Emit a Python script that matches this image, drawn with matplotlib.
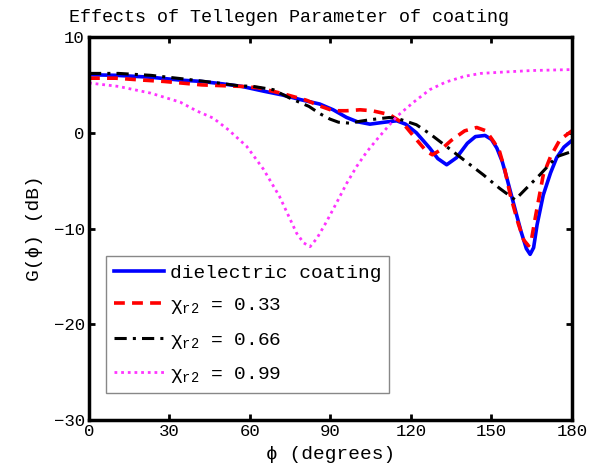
import matplotlib.pyplot as plt

# 讀取圖上的數值 (phi in degrees, G in dB)
phi_diel = [0, 10, 23, 34, 42, 50, 57, 65, 72, 79, 86, 91, 96, 100, 104.7, 110, 114.7,
            118, 122, 127, 130, 133.3, 137, 141, 144, 147.6, 150, 152, 154, 155.7, 159, 161,
            163, 164.4, 165.7, 167, 169.3, 172, 174.3, 177, 180]
g_diel = [6.06, 6.0, 5.8, 5.5, 5.36, 5.1, 4.84, 4.35, 3.95, 3.45, 3.0, 2.4, 1.6, 1.15, 0.9,
          1.1, 1.25, 0.9, 0.0, -1.6, -2.7, -3.34, -2.6, -1.1, -0.4, -0.28, -0.7, -1.6, -3.0,
          -4.7, -8.2, -10.3, -12.1, -12.7, -12.0, -9.6, -6.5, -4.2, -2.6, -1.5, -0.8]

phi_033 = [0, 10, 20, 28, 42, 57, 63, 72, 81, 86, 91, 96, 101, 105.5, 112, 117, 122, 125.8,
           128, 131, 135, 140, 144.5, 148, 151, 153, 155, 157, 160, 162, 163.8, 165, 166.5,
           169.3, 172, 175.5, 180]
g_033 = [5.7, 5.7, 5.5, 5.36, 5.0, 4.84, 4.7, 4.1, 3.4, 2.8, 2.3, 2.3, 2.4, 2.3, 1.9, 1.0,
         -0.7, -1.95, -2.3, -1.8, -0.8, 0.2, 0.55, 0.2, -1.0, -1.95, -3.9, -6.5, -9.5, -11.2,
         -11.8, -11.0, -8.6, -4.4, -2.5, -0.73, 0.2]

phi_066 = [0, 11, 23, 36, 48, 56, 61, 68.7, 75, 82, 86, 89.8, 93, 97.3, 101, 104.7, 112, 116,
           122, 127, 134, 140, 147, 153, 158.8, 163, 168, 174.3, 180]
g_066 = [6.2, 6.2, 6.0, 5.6, 5.2, 4.9, 4.85, 4.5, 3.6, 2.75, 2.0, 1.43, 1.1, 1.0, 1.2, 1.36,
         1.6, 1.4, 0.84, -0.1, -1.6, -2.9, -4.4, -5.8, -7.0, -5.8, -4.4, -2.5, -1.95]

phi_099 = [0, 11, 23, 34, 40, 46.3, 52, 58.8, 65, 71, 77.4, 80, 82.4, 85, 88.5, 92.3, 96, 99.8,
           103.5, 107.2, 114.7, 121, 127, 133, 140, 146, 155, 165, 180]
g_099 = [5.2, 4.84, 4.14, 3.2, 2.3, 1.53, 0.3, -1.43, -3.8, -6.65, -10.5, -11.5, -11.9, -11.0,
         -9.3, -7.3, -5.3, -3.5, -2.0, -0.73, 1.7, 3.2, 4.5, 5.3, 5.9, 6.2, 6.35, 6.5, 6.6]

xticks = [0, 30, 60, 90, 120, 150, 180]
yticks = [-30, -20, -10, 0, 10]

plt.rcParams['font.family'] = ['Liberation Mono', 'DejaVu Sans Mono', 'DejaVu Sans']
plt.rcParams['mathtext.fontset'] = 'custom'
plt.rcParams['mathtext.rm'] = 'Liberation Mono'
plt.rcParams['mathtext.it'] = 'Liberation Mono'

fig = plt.figure(figsize=(5.96, 4.71), dpi=100)
ax = fig.add_axes([0.1493, 0.1083, 0.8104, 0.8131])

ax.plot(phi_diel, g_diel, color='#0000ff', linestyle='-', linewidth=2.6, label='dielectric coating')
ax.plot(phi_033, g_033, color='#ff0000', linestyle=(0, (3, 2)), linewidth=2.6,
        label=r'$\mathrm{χ}_{\mathrm{r2}}$ = 0.33')
ax.plot(phi_066, g_066, color='black', linestyle=(0, (4, 2, 1, 2)), linewidth=2.2,
        label=r'$\mathrm{χ}_{\mathrm{r2}}$ = 0.66')
ax.plot(phi_099, g_099, color='#ff33ff', linestyle=(0, (1, 1.4)), linewidth=2.0,
        label=r'$\mathrm{χ}_{\mathrm{r2}}$ = 0.99')

ax.set_xlim(0, 180)
ax.set_ylim(-30, 10)
ax.set_xticks(xticks)
ax.set_yticks(yticks)
ax.tick_params(direction='in', top=True, right=True, length=4, width=2,
               labelsize=12.5, pad=3)
for s in ax.spines.values():
    s.set_linewidth(2.5)

ax.set_xlabel('ϕ (degrees)', fontsize=14, labelpad=5)
ax.set_ylabel('G(ϕ) (dB)', fontsize=14, labelpad=8)
fig.text(0.485, 0.962, 'Effects of Tellegen Parameter of coating', fontsize=13.2,
         ha='center', va='center')

leg = ax.legend(loc='lower left', bbox_to_anchor=(0.015, 0.045), fontsize=14,
                handlelength=2.6, handletextpad=0.3, labelspacing=0.75,
                borderpad=0.4, fancybox=False, framealpha=1)
leg.get_frame().set_edgecolor('#888888')
leg.get_frame().set_linewidth(1.0)

fig.savefig('out.png', dpi=100)
